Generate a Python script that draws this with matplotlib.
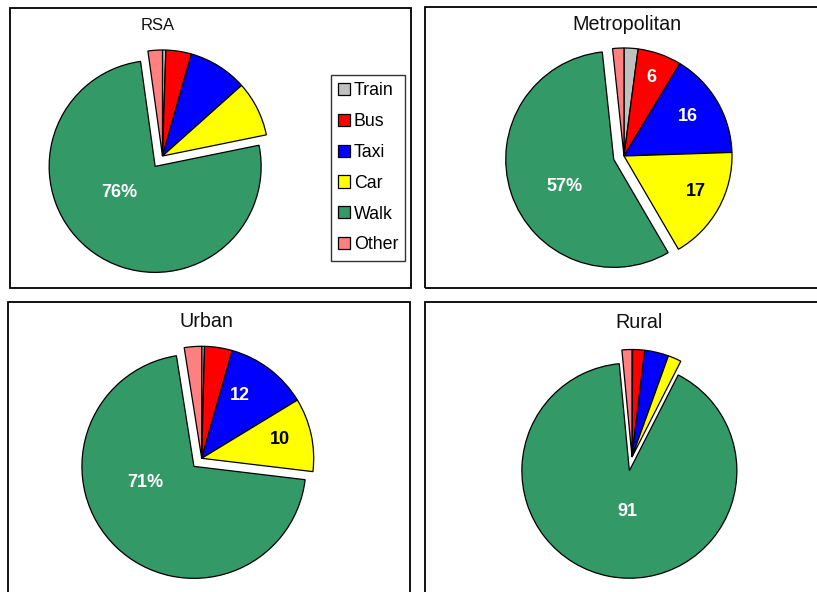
import matplotlib
matplotlib.use("Agg")
import matplotlib.pyplot as plt
from matplotlib.patches import Rectangle
import numpy as np

plt.rcParams['font.family'] = ['Liberation Sans', 'DejaVu Sans']

# ---------------- data ----------------
modes = ["Train", "Bus", "Taxi", "Car", "Walk", "Other"]
colors = ["#C0C0C0", "#FF0000", "#0000FF", "#FFFF00", "#339966", "#FF8080"]
panel_titles = ["RSA", "Metropolitan", "Urban", "Rural"]

rsa_share = [0.5, 3.9, 9.0, 8.4, 76.0, 2.2]
metro_share = [2.1, 6.6, 15.9, 17.2, 57.0, 1.7]
urban_share = [0.4, 4.0, 11.9, 10.6, 70.6, 2.5]
rural_share = [0.1, 1.8, 3.6, 2.0, 91.0, 1.5]

# value labels shown on slices: (slice index, text)
rsa_labels = [(4, "76%")]
metro_labels = [(1, "6"), (2, "16"), (3, "17"), (4, "57%")]
urban_labels = [(2, "12"), (3, "10"), (4, "71%")]
rural_labels = [(4, "91")]

shares = [rsa_share, metro_share, urban_share, rural_share]
labels = [rsa_labels, metro_labels, urban_labels, rural_labels]

# ---------------- layout (image pixel coords, y down) ----------------
W, H = 817, 592
# pie centre x, y, radius, explode of Walk slice (fraction of radius)
pie_layout = [
    (162.5, 156.0, 106.0, 0.12),
    (624.0, 156.0, 108.0, 0.10),
    (201.7, 458.3, 112.0, 0.10),
    (632.0, 457.0, 107.5, 0.13),
]
title_layout = [(158, 29.5, 12), (627, 30.5, 14.2), (206, 327, 14.2), (639, 328.5, 14.2)]
# label placement: clock angle (deg from 12 o'clock, clockwise), distance fraction, colour
label_style = [
    [(234, 0.42, "white")],
    [(18.9, 0.77, "white"), (58.1, 0.70, "white"), (116.7, 0.74, "black"), (241.5, 0.52, "white")],
    [(31.2, 0.66, "white"), (76.2, 0.72, "black"), (251.6, 0.46, "white")],
    [(183, 0.38, "white")],
]
boxes = [(10, 8, 411, 288), (425, 7, 840, 288), (8, 302, 410, 620), (425, 302, 840, 620)]

fig = plt.figure(figsize=(W / 100, H / 100), dpi=100)
ax = fig.add_axes([0, 0, 1, 1])

def fy(y):
    return H - y

for (x0, y0, x1, y1) in boxes:
    ax.add_patch(Rectangle((x0, fy(y1)), x1 - x0, y1 - y0, fill=False,
                           edgecolor="black", linewidth=1.3, zorder=1))

first_wedges = None
for i in range(4):
    cx, cy, r, ex = pie_layout[i]
    explode = [ex * r if m == "Walk" else 0 for m in modes]
    wedges, _ = ax.pie(shares[i], colors=colors, startangle=90, counterclock=False,
                       explode=explode, center=(cx, fy(cy)), radius=r,
                       wedgeprops=dict(edgecolor="black", linewidth=0.9))
    if first_wedges is None:
        first_wedges = wedges
    tx, ty, ts = title_layout[i]
    ax.text(tx, fy(ty), panel_titles[i], ha="center", va="baseline", fontsize=ts, color="#111111")
    for (idx, txt), (ang, dist, col) in zip(labels[i], label_style[i]):
        w = wedges[idx]
        wc = w.center
        a = np.deg2rad(90 - ang)
        px = wc[0] + dist * w.r * np.cos(a)
        py = wc[1] + dist * w.r * np.sin(a)
        ax.text(px, py, txt, ha="center", va="center", fontsize=13, fontweight="bold", color=col)

ax.set_xlim(0, W)
ax.set_ylim(0, H)
ax.set_aspect("equal")
ax.axis("off")

leg = ax.legend(first_wedges, modes, loc="upper left",
                bbox_to_anchor=(331 / W, 1 - 75 / H), borderaxespad=0,
                fontsize=12.8, frameon=True, fancybox=False, shadow=False,
                handlelength=0.68, handleheight=0.68, handletextpad=0.2,
                labelspacing=0.78, borderpad=0.4)
leg.get_frame().set_edgecolor("black")
leg.get_frame().set_linewidth(1.0)

fig.savefig("out.png", dpi=100)
